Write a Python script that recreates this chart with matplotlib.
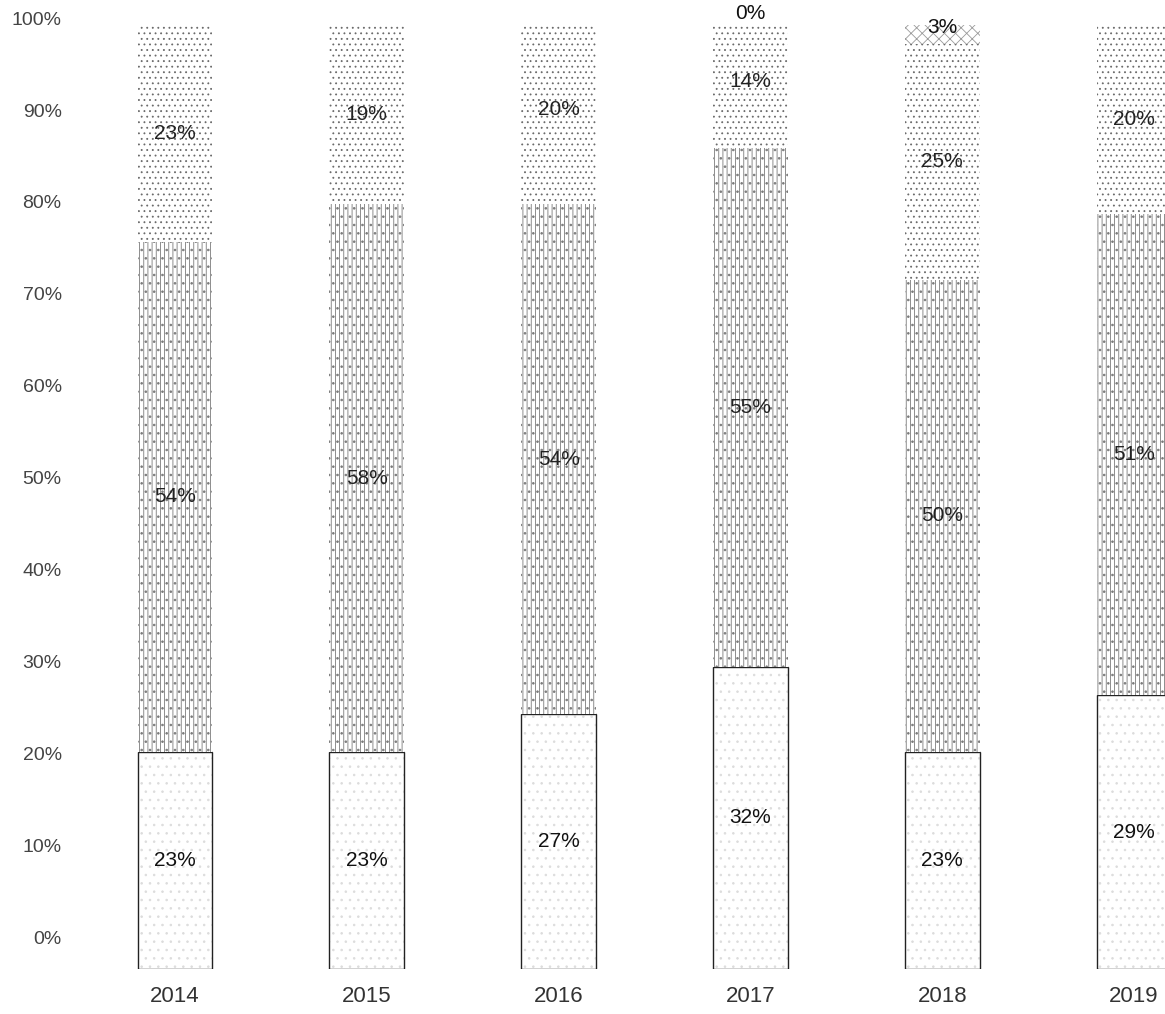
import matplotlib.pyplot as plt
import numpy as np

plt.rcParams['font.family'] = ['Liberation Sans', 'DejaVu Sans']
plt.rcParams['hatch.linewidth'] = 0.6

years = ['2014', '2015', '2016', '2017', '2018', '2019']
bottom_share = [23, 23, 27, 32, 23, 29]
middle_share = [54, 58, 54, 55, 50, 51]
top_share = [23, 19, 20, 14, 25, 20]
# small extra segment only shown for 2017 (0%) and 2018 (3%)
extra_share = [None, None, None, 0, 3, None]
y_ticks = [0, 10, 20, 30, 40, 50, 60, 70, 80, 90, 100]

W, H = 1165, 1014
fig = plt.figure(figsize=(W / 100, H / 100), dpi=100)

# bar axes
ax = fig.add_axes([0, 45 / H, 1, 944 / H])
x = np.arange(len(years))
width = 0.39

b1 = np.array(bottom_share, dtype=float)
b2 = b1 + np.array(middle_share)
b3 = b2 + np.array(top_share)

# bottom segment: white with faint speckle, thin black outline
ax.bar(x, bottom_share, width, color='white', edgecolor='#dcdcdc',
       hatch='..', linewidth=0)
ax.bar(x, bottom_share, width, fill=False, edgecolor='#222222', linewidth=1.0)

# middle segment: dense vertical dotted texture
ax.bar(x, middle_share, width, bottom=b1, color='white', edgecolor='#7a7a7a',
       hatch='||||..', linewidth=0)

# top segment: sparse dots
ax.bar(x, top_share, width, bottom=b2, color='white', edgecolor='#6a6a6a',
       hatch='...', linewidth=0)

for i, v in enumerate(extra_share):
    if v is None:
        continue
    if v > 0:
        ax.bar(x[i], v, width, bottom=b3[i], color='white', edgecolor='#9a9a9a',
               hatch='xxx', linewidth=0)
    ax.text(x[i], b3[i] + v / 2 + 0.2, f'{v}%', ha='center', va='center',
            fontsize=15, color='#111111')

for i in range(len(years)):
    ax.text(x[i], b1[i] / 2, f'{bottom_share[i]}%', ha='center', va='center',
            fontsize=15, color='#111111')
    ax.text(x[i], b1[i] + middle_share[i] / 2, f'{middle_share[i]}%', ha='center',
            va='center', fontsize=15, color='#222222')
    ax.text(x[i], b2[i] + top_share[i] / 2, f'{top_share[i]}%', ha='center',
            va='center', fontsize=15, color='#222222')

ax.set_xlim(-175 / 191.8, 5 + 31 / 191.8)
ax.set_ylim(0, 100)
ax.set_xticks(x)
ax.set_xticklabels(years, fontsize=16, color='#333333')
ax.tick_params(axis='x', length=0, pad=12)
ax.set_yticks([])
for s in ax.spines.values():
    s.set_visible(False)
ax.patch.set_alpha(0)

# y tick labels (slightly different scale in the scanned original)
lab = fig.add_axes([70 / W, (H - 938) / H, 0.001, 920 / H])
lab.set_ylim(0, 100)
lab.set_yticks(y_ticks)
lab.set_yticklabels([f'{t}%' for t in y_ticks], fontsize=14, color='#444444')
lab.tick_params(axis='y', length=0, pad=6)
lab.set_xticks([])
for s in lab.spines.values():
    s.set_visible(False)
lab.patch.set_alpha(0)

fig.savefig('out.png', dpi=100)
